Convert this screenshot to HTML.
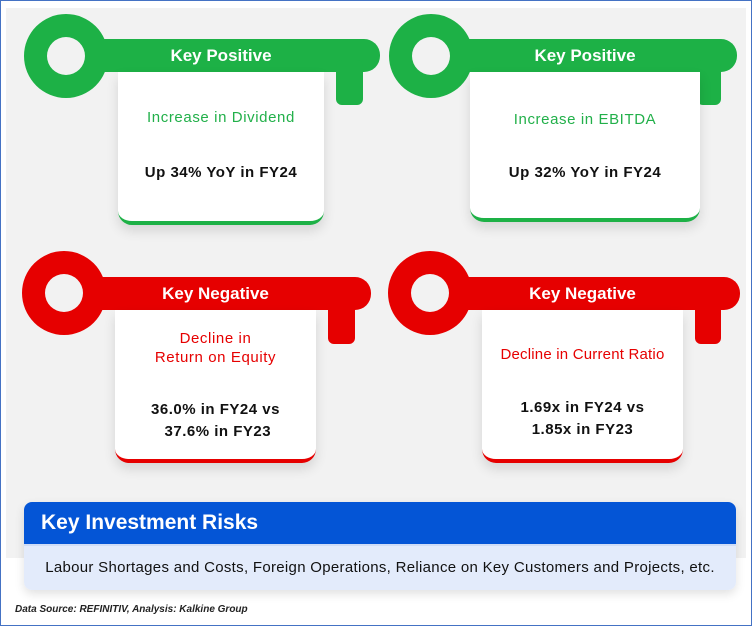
<!DOCTYPE html>
<html><head><meta charset="utf-8"><style>
body{margin:0;width:752px;height:626px;background:#fff;position:relative;overflow:hidden;font-family:"Liberation Sans",sans-serif}
.frame{position:absolute;left:0;top:0;width:750px;height:624px;border:1px solid #4472c4}
.bg{position:absolute;left:6px;top:8px;width:740px;height:550px;background:#f2f2f2}
.abs{position:absolute}
.card{position:absolute;background:#fff;border-radius:0 0 14px 14px;box-shadow:0 6px 12px rgba(0,0,0,0.12);text-align:center}
.title{position:absolute;color:#fff;font-weight:bold;font-size:17px;text-align:center;line-height:33px}
.sub{position:absolute;left:0;right:0;font-size:15px;letter-spacing:0.6px}
.val{position:absolute;left:0;right:0;font-size:15px;letter-spacing:0.5px;font-weight:bold;color:#111;line-height:22px}
</style></head><body>
<div class="frame"></div>
<div class="bg"></div>

<svg class="abs" style="left:0;top:0" width="752" height="480">
 <g fill="#1db146">
  <path fill-rule="evenodd" d="M66 14a42 42 0 1 1 0 84a42 42 0 1 1 0-84zM66 37a19 19 0 1 0 0 38a19 19 0 1 0 0-38z"/>
  <rect x="95" y="39" width="285" height="33" rx="16"/><rect x="95" y="39" width="200" height="33"/>
  <rect x="336" y="60" width="27" height="45" rx="6"/>
 </g>
 <g fill="#1db146">
  <path fill-rule="evenodd" d="M431 14a42 42 0 1 1 0 84a42 42 0 1 1 0-84zM431 37a19 19 0 1 0 0 38a19 19 0 1 0 0-38z"/>
  <rect x="460" y="39" width="277" height="33" rx="16"/><rect x="460" y="39" width="200" height="33"/>
  <rect x="697" y="60" width="24" height="45" rx="6"/>
 </g>
 <g fill="#e60000">
  <path fill-rule="evenodd" d="M64 251a42 42 0 1 1 0 84a42 42 0 1 1 0-84zM64 274a19 19 0 1 0 0 38a19 19 0 1 0 0-38z"/>
  <rect x="93" y="277" width="278" height="33" rx="16"/><rect x="93" y="277" width="200" height="33"/>
  <rect x="328" y="298" width="27" height="46" rx="6"/>
 </g>
 <g fill="#e60000">
  <path fill-rule="evenodd" d="M430 251a42 42 0 1 1 0 84a42 42 0 1 1 0-84zM430 274a19 19 0 1 0 0 38a19 19 0 1 0 0-38z"/>
  <rect x="459" y="277" width="281" height="33" rx="16"/><rect x="459" y="277" width="200" height="33"/>
  <rect x="695" y="298" width="26" height="46" rx="6"/>
 </g>
</svg>

<div class="title" style="left:118px;top:39px;width:206px">Key Positive</div>
<div class="title" style="left:470px;top:39px;width:230px">Key Positive</div>
<div class="title" style="left:115px;top:277px;width:201px">Key Negative</div>
<div class="title" style="left:482px;top:277px;width:201px">Key Negative</div>

<div class="card" style="left:118px;top:72px;width:206px;height:149px;border-bottom:4px solid #1db146">
 <div class="sub" style="top:37px;color:#22b04a">Increase in Dividend</div>
 <div class="val" style="top:90px">Up 34% YoY in FY24</div>
</div>
<div class="card" style="left:470px;top:72px;width:230px;height:146px;border-bottom:4px solid #1db146">
 <div class="sub" style="top:39px;color:#22b04a">Increase in EBITDA</div>
 <div class="val" style="top:90px">Up 32% YoY in FY24</div>
</div>
<div class="card" style="left:115px;top:310px;width:201px;height:149px;border-bottom:4px solid #e60000">
 <div class="sub" style="top:19px;color:#e60000;line-height:19px">Decline in<br>Return on Equity</div>
 <div class="val" style="top:89px">36.0% in FY24 vs<br>&nbsp;37.6% in FY23</div>
</div>
<div class="card" style="left:482px;top:310px;width:201px;height:149px;border-bottom:4px solid #e60000">
 <div class="sub" style="top:36px;color:#e60000;letter-spacing:0.2px">Decline in Current Ratio</div>
 <div class="val" style="top:87px">1.69x in FY24 vs<br>1.85x in FY23</div>
</div>

<div class="abs" style="left:24px;top:502px;width:712px;height:88px;border-radius:8px;overflow:hidden;box-shadow:0 4px 10px rgba(0,0,0,0.12)">
 <div style="height:42px;background:#0455d6;color:#fff;font-size:21px;font-weight:bold;line-height:42px;padding-left:17px;border-bottom:2px solid #cfdcf6">Key Investment Risks</div>
 <div style="height:44px;background:#e3ebfb;color:#111;font-size:15px;letter-spacing:0.3px;line-height:44px;text-align:center">Labour Shortages and Costs, Foreign Operations, Reliance on Key Customers and Projects, etc.</div>
</div>
<div class="abs" style="left:15px;top:604px;font-size:10px;font-style:italic;font-weight:bold;color:#222">Data Source: REFINITIV, Analysis: Kalkine Group</div>
</body></html>
